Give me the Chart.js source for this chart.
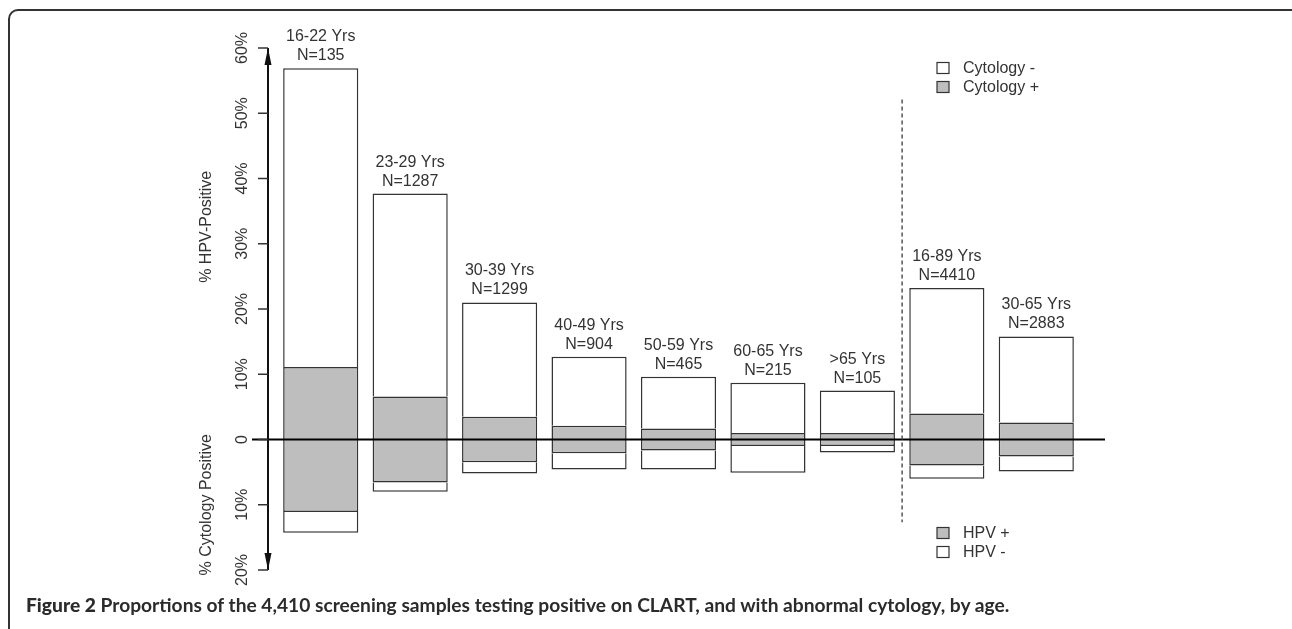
<!DOCTYPE html>
<html>
<head>
<meta charset="utf-8">
<script src="https://cdn.jsdelivr.net/npm/chart.js@4/dist/chart.umd.min.js"></script>
<style>
body{margin:0;background:#fff;width:1292px;height:629px;overflow:hidden;position:relative;}
#frame{position:absolute;left:8px;top:9px;width:1300px;height:700px;border:2px solid #333;border-radius:10px;box-sizing:border-box;}
#chart{position:absolute;left:0;top:0;}
#caption{position:absolute;left:26px;top:595px;font-family:Lato,"Open Sans",sans-serif;font-weight:bold;font-size:19.2px;line-height:20px;color:#2b2b2b;white-space:nowrap;}
</style>
</head>
<body>
<div id="frame"></div>
<canvas id="chart" width="1292" height="629"></canvas>
<div id="caption"><b>Figure 2</b> Proportions of the 4,410 screening samples testing positive on CLART, and with abnormal cytology, by age.</div>
<script>
// age groups and sample sizes
const ageGroups=["16-22 Yrs","23-29 Yrs","30-39 Yrs","40-49 Yrs","50-59 Yrs","60-65 Yrs",">65 Yrs","16-89 Yrs","30-65 Yrs"];
const sampleSizes=[135,1287,1299,904,465,215,105,4410,2883];

// % HPV positive (bar above zero)
const hpvPositive=[56.9,37.7,21.0,12.7,9.6,8.7,7.5,23.2,15.8];
// % both HPV positive and cytology positive (grey part, above and below)
const bothPositive=[11.1,6.6,3.5,2.1,1.7,1.0,1.0,4.0,2.6];
// % cytology positive (bar below zero)
const cytologyPositive=[14.3,8.0,5.2,4.6,4.6,5.1,2.0,6.0,4.9];

// y axis ticks (shown as absolute values)
const yTicks=[60,50,40,30,20,10,0,-10,-20];

const grey="#bebebe";
const ink="#333";
const font="16px 'Liberation Sans', Arial, sans-serif";

const overlay={
id:"overlay",
afterDatasetsDraw(chart){
const ctx=chart.ctx;
const x=chart.scales.x;
const y=chart.scales.y;
const area=chart.chartArea;
ctx.save();

// zero line
ctx.strokeStyle="#000";
ctx.lineWidth=2;
ctx.beginPath();
ctx.moveTo(area.left-24,y.getPixelForValue(0));
ctx.lineTo(area.right+24,y.getPixelForValue(0));
ctx.stroke();

// y axis with arrows
const ax=area.left-8;
const yTop=y.getPixelForValue(60);
const yBot=y.getPixelForValue(-20);
ctx.strokeStyle="#111";
ctx.lineWidth=2;
ctx.beginPath();
ctx.moveTo(ax,yTop);
ctx.lineTo(ax,yBot);
ctx.stroke();
ctx.fillStyle="#111";
ctx.beginPath();
ctx.moveTo(ax,yTop);ctx.lineTo(ax-3.5,yTop+17);ctx.lineTo(ax+3.5,yTop+17);ctx.closePath();
ctx.fill();
ctx.beginPath();
ctx.moveTo(ax,yBot);ctx.lineTo(ax-3.5,yBot-17);ctx.lineTo(ax+3.5,yBot-17);ctx.closePath();
ctx.fill();

// ticks and rotated labels
ctx.lineWidth=1.5;
ctx.strokeStyle=ink;
ctx.fillStyle=ink;
ctx.font=font;
ctx.textAlign="center";
ctx.textBaseline="middle";
yTicks.forEach(v=>{
const py=y.getPixelForValue(v);
ctx.beginPath();
ctx.moveTo(ax-10,py);
ctx.lineTo(ax,py);
ctx.stroke();
ctx.save();
ctx.translate(ax-25,py);
ctx.rotate(-Math.PI/2);
ctx.fillText(v===0?"0":Math.abs(v)+"%",0,0);
ctx.restore();
});

// axis titles
[["% HPV-Positive",32.6],["% Cytology Positive",-10]].forEach(t=>{
ctx.save();
ctx.translate(ax-61,y.getPixelForValue(t[1]));
ctx.rotate(-Math.PI/2);
ctx.fillText(t[0],0,0);
ctx.restore();
});

// labels above bars
ctx.textBaseline="alphabetic";
ageGroups.forEach((g,i)=>{
const px=x.getPixelForValue(i);
const top=y.getPixelForValue(hpvPositive[i]);
ctx.fillText(g,px,top-27);
ctx.fillText("N="+sampleSizes[i],px,top-8);
});

// dashed separator between age groups and totals
const sx=(x.getPixelForValue(6)+x.getPixelForValue(7))/2;
ctx.strokeStyle="#555";
ctx.lineWidth=1.5;
ctx.setLineDash([4,3]);
ctx.beginPath();
ctx.moveTo(sx,y.getPixelForValue(52.1));
ctx.lineTo(sx,y.getPixelForValue(-12.7));
ctx.stroke();
ctx.setLineDash([]);

// legends
const items=[["Cytology -","#fff",68],["Cytology +",grey,87],["HPV +",grey,533],["HPV -","#fff",552]];
ctx.textAlign="left";
ctx.textBaseline="middle";
ctx.lineWidth=1.2;
items.forEach(it=>{
ctx.fillStyle=it[1];
ctx.fillRect(937,it[2]-5.5,12,11);
ctx.strokeStyle=ink;
ctx.strokeRect(937,it[2]-5.5,12,11);
ctx.fillStyle=ink;
ctx.fillText(it[0],963,it[2]+1);
});

ctx.restore();
}
};

const barStyle={
borderColor:ink,
borderSkipped:false,
grouped:false,
barPercentage:0.84,
categoryPercentage:1
};

new Chart(document.getElementById("chart"),{
type:"bar",
data:{
labels:ageGroups,
datasets:[
Object.assign({label:"Cytology +",data:bothPositive.map(v=>[0,v]),backgroundColor:grey,borderWidth:{top:1.5,left:1.5,right:1.5,bottom:0}},barStyle),
Object.assign({label:"Cytology -",data:hpvPositive.map((v,i)=>[bothPositive[i],v]),backgroundColor:"#fff",borderWidth:{top:1.5,left:1.5,right:1.5,bottom:0}},barStyle),
Object.assign({label:"HPV +",data:bothPositive.map(v=>[-v,0]),backgroundColor:grey,borderWidth:{top:0,left:1.5,right:1.5,bottom:1.5}},barStyle),
Object.assign({label:"HPV -",data:cytologyPositive.map((v,i)=>[-v,-bothPositive[i]]),backgroundColor:"#fff",borderWidth:{top:0,left:1.5,right:1.5,bottom:1.5}},barStyle)
]
},
options:{
responsive:false,
animation:false,
layout:{padding:{left:276,right:211,top:48,bottom:59}},
scales:{
x:{display:false},
y:{display:false,min:-20,max:60}
},
plugins:{
legend:{display:false},
tooltip:{enabled:false}
}
},
plugins:[overlay]
});
</script>
</body>
</html>
